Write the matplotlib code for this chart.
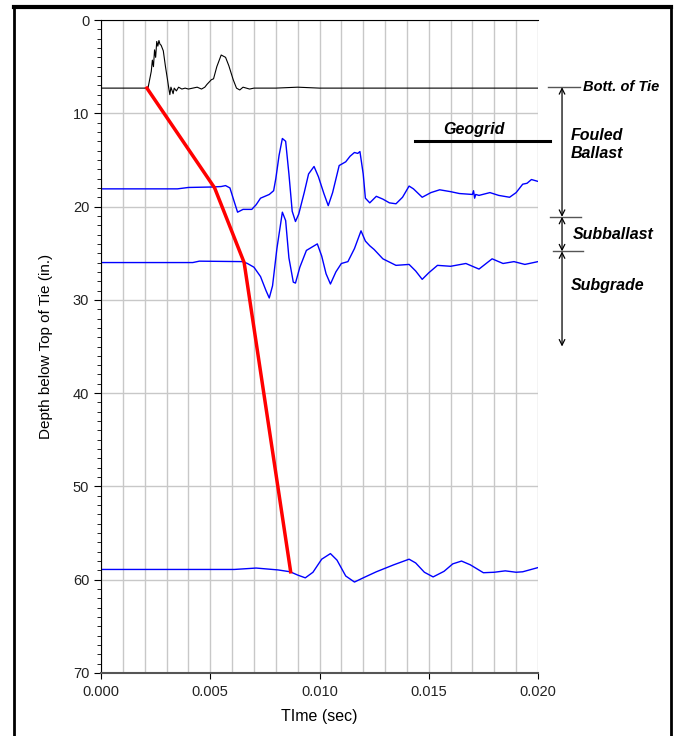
import matplotlib
matplotlib.use("Agg")
import matplotlib.pyplot as plt
from matplotlib.lines import Line2D
from matplotlib.ticker import MultipleLocator

plt.rcParams["font.family"] = ["Liberation Sans", "DejaVu Sans"]

# time in ms, depth in inches
tie_t = [0, 2.15, 2.3, 2.35, 2.4, 2.45, 2.5, 2.55, 2.6, 2.65, 2.7, 2.75, 2.85, 2.95,
         3.05, 3.1, 3.15, 3.2, 3.3, 3.35, 3.45, 3.55, 3.7, 3.85, 4.0, 4.2, 4.4, 4.6,
         4.75, 4.85, 5.05, 5.15, 5.3, 5.5, 5.7, 5.85, 6.05, 6.2, 6.35, 6.5, 6.8,
         7.0, 8.0, 9.0, 10.0, 12.0, 20.0]
tie_d = [7.3, 7.3, 5.5, 4.3, 5.0, 3.2, 4.0, 2.3, 2.8, 2.2, 2.6, 2.7, 3.3, 5.0,
         6.5, 7.3, 8.0, 7.2, 7.9, 7.3, 7.6, 7.2, 7.4, 7.3, 7.4, 7.3, 7.2, 7.4,
         7.2, 6.9, 6.4, 6.3, 5.0, 3.75, 4.0, 4.9, 6.4, 7.3, 7.5, 7.2, 7.4,
         7.3, 7.3, 7.2, 7.3, 7.3, 7.3]

ballast_t = [0, 3.5, 4.0, 5.1, 5.5, 5.7, 5.9, 6.1, 6.25, 6.5, 6.9, 7.1, 7.3, 7.7,
             7.9, 8.0, 8.15, 8.3, 8.45, 8.6, 8.75, 8.9, 9.05, 9.3, 9.5, 9.75, 9.95,
             10.2, 10.4, 10.6, 10.9, 11.2, 11.4, 11.6, 11.75, 11.85, 12.0, 12.1,
             12.3, 12.6, 12.9, 13.2, 13.5, 13.8, 14.1, 14.3, 14.7, 15.1, 15.5, 16.0,
             16.4, 17.0, 17.05, 17.1, 17.15, 17.3, 17.8, 18.2, 18.7, 19.0, 19.3,
             19.5, 19.7, 20.0]
ballast_d = [18.1, 18.1, 17.95, 17.9, 17.85, 17.75, 18.0, 19.5, 20.6, 20.3, 20.3,
             19.8, 19.1, 18.7, 18.3, 17.0, 14.5, 12.7, 13.0, 16.5, 20.5, 21.6, 20.8,
             18.5, 16.5, 15.7, 16.8, 18.6, 19.9, 18.5, 15.6, 15.2, 14.6, 14.2, 14.3,
             14.1, 16.5, 19.1, 19.6, 18.9, 19.2, 19.6, 19.7, 19.0, 17.8, 18.1, 19.0,
             18.5, 18.2, 18.4, 18.6, 18.7, 18.3, 19.1, 18.7, 18.8, 18.5, 18.8, 19.0,
             18.5, 17.6, 17.5, 17.1, 17.3]

subb_t = [0, 4.2, 4.5, 6.5, 6.7, 7.0, 7.3, 7.55, 7.7, 7.85, 8.05, 8.3, 8.45, 8.6,
          8.8, 8.9, 9.1, 9.4, 9.9, 10.1, 10.3, 10.5, 10.75, 11.0, 11.3, 11.6, 11.9,
          12.1, 12.3, 12.5, 12.9, 13.5, 14.1, 14.4, 14.7, 15.0, 15.4, 16.0, 16.7,
          17.3, 17.9, 18.4, 18.9, 19.4, 20.0]
subb_d = [26.0, 26.0, 25.85, 25.9, 26.1, 26.5, 27.5, 29.0, 29.8, 28.5, 24.5, 20.6,
          21.5, 25.5, 28.1, 28.2, 26.5, 24.7, 24.0, 25.3, 27.2, 28.3, 27.0, 26.1,
          25.9, 24.5, 22.6, 23.7, 24.2, 24.6, 25.6, 26.3, 26.2, 26.9, 27.8, 27.1,
          26.3, 26.4, 26.1, 26.7, 25.6, 26.1, 25.9, 26.2, 25.9]

subg_t = [0, 6.1, 7.1, 8.1, 8.66, 9.0, 9.35, 9.7, 10.1, 10.5, 10.8, 11.2, 11.6,
          12.0, 12.6, 13.4, 14.1, 14.4, 14.8, 15.2, 15.7, 16.1, 16.5, 16.9, 17.5,
          18.0, 18.5, 19.0, 19.3, 20.0]
subg_d = [58.9, 58.9, 58.75, 58.95, 59.15, 59.5, 59.8, 59.2, 57.8, 57.2, 57.9,
          59.6, 60.25, 59.8, 59.15, 58.4, 57.8, 58.2, 59.2, 59.7, 59.1, 58.3, 58.0,
          58.4, 59.25, 59.2, 59.05, 59.2, 59.15, 58.7]

arrival_t = [2.1, 5.2, 6.55, 8.68]
arrival_d = [7.3, 18.0, 26.0, 59.15]

layer_bounds = [7.2, 21.1, 24.8, 35.0]
geogrid_depth = 12.95


def sec(ms):
    return [v / 1000.0 for v in ms]


fig = plt.figure(figsize=(6.78, 7.36), dpi=100)
ax = fig.add_axes([0.149, 0.0856, 0.6445, 0.8872])

ax.plot(sec(tie_t), tie_d, color="black", lw=0.8)
for t, d in [(ballast_t, ballast_d), (subb_t, subb_d), (subg_t, subg_d)]:
    ax.plot(sec(t), d, color="#0000ff", lw=1.0)
ax.plot(sec(arrival_t), arrival_d, color="#ff0000", lw=2.5)

ax.set_xlim(0, 0.020)
ax.set_ylim(70, 0)
ax.xaxis.set_major_locator(MultipleLocator(0.005))
ax.xaxis.set_minor_locator(MultipleLocator(0.001))
ax.yaxis.set_major_locator(MultipleLocator(10))
ax.yaxis.set_minor_locator(MultipleLocator(1))
ax.xaxis.set_major_formatter(plt.FormatStrFormatter("%.3f"))
ax.grid(True, which="major", axis="y", color="#c8c8c8", lw=1.0)
ax.grid(True, which="both", axis="x", color="#c8c8c8", lw=1.0)
ax.set_axisbelow(True)
ax.tick_params(axis="x", which="minor", length=0)
ax.tick_params(axis="x", which="major", length=4, labelsize=10.5, pad=5,
               labelcolor="#222222")
ax.tick_params(axis="y", which="major", length=5, labelsize=10.5, labelcolor="#222222")
ax.tick_params(axis="y", which="minor", length=3)
ax.spines["right"].set_visible(False)
ax.spines["bottom"].set_color("#555555")
ax.spines["bottom"].set_linewidth(1.5)
ax.set_xlabel("TIme (sec)", fontsize=11.5, labelpad=7)
ax.set_ylabel("Depth below Top of Tie (in.)", fontsize=11, labelpad=14)

# Geogrid marker
ann = dict(fontsize=11.5, fontweight="bold", style="italic")
ax.plot([0.01437, 0.02055], [geogrid_depth] * 2, color="black", lw=2.2, clip_on=False)
ax.text(0.01707, geogrid_depth - 0.4, "Geogrid", ha="center", va="bottom", **ann)

# layer annotation on the right
ax_x = 0.0211
ax.plot([0.02046, 0.02192], [layer_bounds[0]] * 2, color="#555555", lw=1, clip_on=False)
ax.plot([0.02055, 0.02197], [layer_bounds[1]] * 2, color="#555555", lw=1, clip_on=False)
ax.plot([0.02069, 0.02206], [layer_bounds[2]] * 2, color="#555555", lw=1, clip_on=False)
for top, bot in zip(layer_bounds[:-1], layer_bounds[1:]):
    ax.annotate("", xy=(ax_x, top), xytext=(ax_x, bot), annotation_clip=False,
                arrowprops=dict(arrowstyle="<->", color="black", lw=0.9,
                                shrinkA=0, shrinkB=0))
ax.text(0.02206, layer_bounds[0], "Bott. of Tie", ha="left", va="center",
        fontsize=10.5, fontweight="bold", style="italic")
ax.text(0.0215, 13.3, "Fouled\nBallast", ha="left", va="center",
        linespacing=1.25, **ann)
ax.text(0.0216, 23.0, "Subballast", ha="left", va="center", **ann)
ax.text(0.0215, 28.5, "Subgrade", ha="left", va="center", **ann)

# page frame
fig.add_artist(Line2D([14 / 678, 671 / 678], [1 - 7 / 736] * 2, color="black", lw=3))
fig.add_artist(Line2D([14 / 678] * 2, [0, 1 - 7 / 736], color="black", lw=2))
fig.add_artist(Line2D([671 / 678] * 2, [0, 1 - 7 / 736], color="black", lw=2))

fig.savefig("out.png", dpi=100)
